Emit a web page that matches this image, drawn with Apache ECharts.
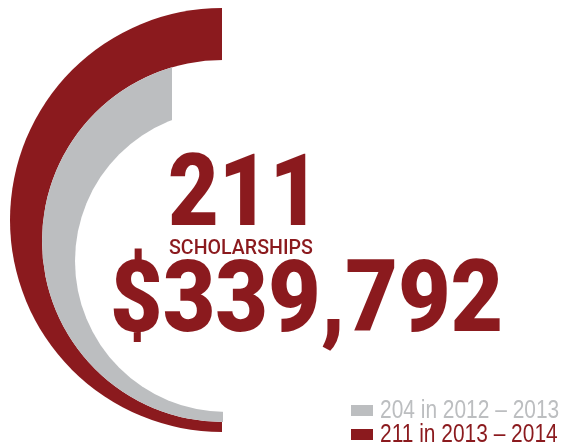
<!DOCTYPE html>
<html>
<head>
<meta charset="utf-8">
<script src="https://cdn.jsdelivr.net/npm/echarts@6/dist/echarts.min.js"></script>
<style>
html,body{margin:0;padding:0;background:#fff;}
#main{width:563px;height:448px;}
</style>
</head>
<body>
<div id="main"></div>
<script>
// ---- data ----
var years = ['2012 – 2013', '2013 – 2014'];
var scholarshipCounts = [204, 211];
var totalAmount = 339792;
var scaleMin = 134;              // arc scale start (value at the bottom end of the arcs)
var scaleMax = 211;              // value that fills the half circle
var colors = ['#BCBEC0', '#8B1A1E'];

var names = years.map(function (y, i) { return scholarshipCounts[i] + ' in ' + y; });

var chart = echarts.init(document.getElementById('main'), null, {renderer: 'canvas'});

function gauge(opt) {
  var base = {
    type: 'gauge',
    startAngle: 270,
    endAngle: 90,
    clockwise: true,
    min: scaleMin,
    max: scaleMax,
    splitNumber: 1,
    pointer: {show: false},
    anchor: {show: false},
    axisTick: {show: false},
    splitLine: {show: false},
    axisLabel: {show: false},
    title: {show: false},
    detail: {show: false},
    silent: true,
    animation: false
  };
  for (var k in opt) base[k] = opt[k];
  return base;
}

var legendTexts = names.map(function (n, i) {
  return {
    type: 'text', x: 380, y: 410.5 + i * 24, scaleX: 0.805, z: 100,
    style: {text: n, fontFamily: '"Liberation Sans", Arial, sans-serif', fontSize: 26,
      fill: colors[i], align: 'left', verticalAlign: 'middle'}
  };
});

var option = {
  backgroundColor: '#ffffff',
  animation: false,
  legend: {
    orient: 'vertical',
    left: 351,
    top: 405,
    height: 60,
    padding: 0,
    itemWidth: 22,
    itemHeight: 11,
    itemGap: 13,
    icon: 'rect',
    selectedMode: false,
    formatter: function () { return ''; },
    textStyle: {fontSize: 11, lineHeight: 11},
    data: names
  },
  graphic: [
    {
      type: 'text', x: 168, y: 200, scaleX: 0.867, z: 100,
      style: {text: String(scholarshipCounts[1]), fontFamily: 'Roboto', fontWeight: 900, fontSize: 101,
        fill: colors[1], align: 'left', verticalAlign: 'middle'}
    },
    {
      type: 'text', x: 169, y: 248.5, scaleX: 0.933, z: 100,
      style: {text: 'SCHOLARSHIPS', fontFamily: 'Roboto', fontWeight: 500, fontSize: 21,
        fill: colors[1], align: 'left', verticalAlign: 'middle'}
    },
    {
      type: 'text', x: 110, y: 306, scaleX: 0.9, z: 100,
      style: {text: '$' + totalAmount.toLocaleString('en-US'), fontFamily: 'Roboto', fontWeight: 900, fontSize: 101,
        fill: colors[1], align: 'left', verticalAlign: 'middle'}
    }
  ].concat(legendTexts),
  series: [
    // 2013-2014 arc (outer)
    gauge({
      name: names[1], center: [222, 220], radius: 212, z: 1,
      itemStyle: {color: colors[1]},
      axisLine: {show: false},
      progress: {show: true, width: 212, roundCap: false, itemStyle: {color: colors[1]}},
      data: [{value: scholarshipCounts[1], name: names[1]}]
    }),
    // 2012-2013 arc (inner), drawn over the hollow of the outer arc
    gauge({
      name: names[0], center: [223, 241], radius: 181, z: 2,
      itemStyle: {color: colors[0]},
      axisLine: {show: true, lineStyle: {width: 181, color: [[1, '#ffffff']]}},
      progress: {show: true, width: 181, roundCap: false, itemStyle: {color: colors[0]}},
      data: [{value: scholarshipCounts[0], name: names[0]}]
    }),
    // straight cut at the top end of the inner arc
    gauge({
      name: 'cut', center: [172, 241], radius: 173, z: 3,
      startAngle: 90, endAngle: 75,
      axisLine: {show: true, lineStyle: {width: 173, color: [[1, '#ffffff']]}},
      progress: {show: false},
      data: []
    }),
    // hollow of the inner arc
    gauge({
      name: 'hollow', center: [226, 261], radius: 151, z: 4,
      axisLine: {show: true, lineStyle: {width: 151, color: [[1, '#ffffff']]}},
      progress: {show: false},
      data: []
    })
  ]
};
chart.setOption(option);
</script>
</body>
</html>
